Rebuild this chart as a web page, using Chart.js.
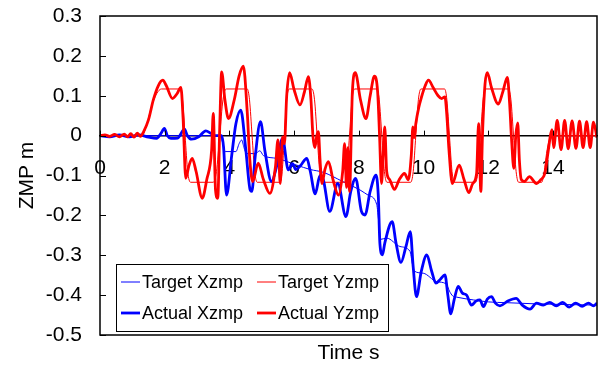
<!DOCTYPE html>
<html>
<head>
<meta charset="utf-8">
<script src="https://cdn.jsdelivr.net/npm/chart.js@4"></script>
<style>
  body { margin: 0; background: #fff; }
  #wrap { width: 598px; height: 366px; }
</style>
</head>
<body>
<div id="wrap"><canvas id="myChart"></canvas></div>
<script>
const grafico = document.querySelector("#myChart")

// target Y zmp (thin red)
const tempoAlvoY = [
    0, 1.3, 1.45, 1.6, 1.75, 1.9,
    2.45, 2.55, 2.63, 2.71, 2.8,
    3.5, 3.6, 3.7, 3.8, 3.9,
    4.55, 4.62, 4.7, 4.78, 4.86,
    5.55, 5.63, 5.7, 5.77, 5.85,
    6.55, 6.63, 6.71, 6.79, 6.87,
    7.55, 7.63, 7.71, 7.79, 7.87,
    8.55, 8.63, 8.71, 8.79, 8.87,
    9.6, 9.68, 9.76, 9.84, 9.92,
    10.65, 10.72, 10.8, 10.88, 10.95,
    11.6, 11.68, 11.76, 11.84, 11.92,
    12.62, 12.7, 12.78, 12.86, 12.94,
    13.65, 13.73, 13.8, 13.88, 13.96,
    15.36]
const alvoY = [
    0, 0, 0.03, 0.075, 0.105, 0.117,
    0.117, 0.09, 0, -0.09, -0.117,
    -0.117, -0.09, 0, 0.09, 0.117,
    0.117, 0.09, 0, -0.09, -0.117,
    -0.117, -0.09, 0, 0.09, 0.117,
    0.117, 0.09, 0, -0.09, -0.117,
    -0.117, -0.09, 0, 0.09, 0.117,
    0.117, 0.09, 0, -0.09, -0.117,
    -0.117, -0.09, 0, 0.09, 0.117,
    0.117, 0.09, 0, -0.09, -0.117,
    -0.117, -0.09, 0, 0.09, 0.117,
    0.117, 0.09, 0, -0.09, -0.117,
    -0.117, -0.09, -0.045, -0.012, 0,
    0]

// actual Y zmp (thick red)
const tempoRealY = [
    0, 0.15, 0.3, 0.45, 0.6, 0.75, 0.85, 0.95, 1.05, 1.15, 1.25, 1.35,
    1.5, 1.65, 1.8, 1.94, 2.05, 2.24, 2.38, 2.5, 2.57, 2.65, 2.75, 2.85,
    2.97, 3.16, 3.3, 3.45, 3.5, 3.57, 3.64, 3.7, 3.76, 3.86, 3.97, 4.15,
    4.3, 4.43, 4.55, 4.63, 4.72, 4.89, 5.05, 5.25, 5.42, 5.5, 5.57, 5.64,
    5.7, 5.77, 5.86, 6.0, 6.18, 6.32, 6.44, 6.52, 6.58, 6.64, 6.7, 6.75,
    6.8, 6.86, 6.95, 7.06, 7.2, 7.37, 7.5, 7.56, 7.62, 7.66, 7.71, 7.8,
    7.89, 8.05, 8.22, 8.35, 8.48, 8.58, 8.64, 8.7, 8.75, 8.8, 8.86, 8.95,
    9.1, 9.25, 9.41, 9.53, 9.62, 9.67, 9.71, 9.76, 9.85, 9.93, 10.05, 10.15,
    10.3, 10.45, 10.56, 10.66, 10.72, 10.78, 10.89, 11.1, 11.25, 11.4, 11.52, 11.64,
    11.7, 11.77, 11.82, 11.9, 11.97, 12.1, 12.31, 12.45, 12.59, 12.66, 12.72, 12.79,
    12.85, 12.91, 12.96, 13.02, 13.12, 13.27, 13.49, 13.63, 13.75, 13.85, 13.92, 13.97,
    14.02, 14.13, 14.25, 14.36, 14.47, 14.59, 14.71, 14.82, 14.93, 15.04, 15.15, 15.25,
    15.36]
const realY = [
    0, 0.002, -0.002, 0.003, -0.003, 0.004, -0.003, 0.005, -0.004, 0.006, -0.002, 0.01,
    0.04, 0.09, 0.125, 0.139, 0.125, 0.093, 0.105, 0.121, 0.04, -0.107, -0.075, -0.057,
    -0.09, -0.157, -0.11, -0.036, 0.056, -0.136, -0.157, 0.02, 0.16, 0.09, 0.043, 0.09,
    0.15, 0.174, 0.06, -0.06, -0.115, -0.069, -0.11, -0.145, -0.08, -0.011, -0.12, -0.003,
    -0.02, 0.1, 0.158, 0.115, 0.077, 0.11, 0.148, 0.09, 0, -0.03, 0, 0.01,
    -0.06, -0.12, -0.085, -0.065, -0.11, -0.149, -0.09, -0.02, -0.13, -0.03, -0.14, 0.11,
    0.158, 0.09, 0.043, 0.1, 0.149, 0.11, 0, -0.12, -0.05, 0.022, -0.09, -0.11,
    -0.135, -0.11, -0.095, -0.111, -0.05, 0.022, -0.005, 0.03, 0.07, 0.095, 0.125, 0.139,
    0.12, 0.1, 0.093, 0.097, 0.05, -0.03, -0.12, -0.074, -0.11, -0.143, -0.12, -0.094,
    0.03, -0.14, 0, 0.13, 0.158, 0.12, 0.079, 0.11, 0.146, 0.08, -0.01, -0.082,
    0, 0.032, -0.06, -0.11, -0.115, -0.103, -0.12, -0.11, -0.094, -0.04, 0, 0.015,
    -0.03, 0.038, -0.035, 0.038, -0.033, 0.037, -0.032, 0.036, -0.03, 0.035, -0.03, 0.034,
    -0.005]

// target X zmp (thin blue)
const tempoAlvoX = [
    0, 3.7, 3.8, 3.87, 4.2, 4.3, 4.38, 4.45, 4.53, 4.8,
    4.94, 5.05, 5.46, 6.08, 6.5, 6.9, 7.5, 8.03, 8.3, 8.55,
    8.62, 8.68, 8.86, 9.27, 9.58, 9.65, 9.72, 9.99, 10.4, 10.7,
    10.8, 10.9, 11.02, 11.54, 12.0, 12.57, 13.5, 15.36]
const alvoX = [
    0, 0, -0.02, -0.04, -0.04, -0.02, -0.011, -0.03, -0.045, -0.045,
    -0.038, -0.05, -0.057, -0.074, -0.085, -0.092, -0.115, -0.136, -0.15, -0.172,
    -0.22, -0.26, -0.257, -0.278, -0.29, -0.32, -0.34, -0.345, -0.366, -0.372,
    -0.39, -0.402, -0.405, -0.412, -0.417, -0.419, -0.422, -0.425]

// actual X zmp (thick blue)
const tempoRealX = [
    0, 0.3, 0.6, 0.9, 1.2, 1.5, 1.75, 1.88, 1.99, 2.08,
    2.19, 2.4, 2.61, 2.7, 2.83, 3.05, 3.27, 3.42, 3.55, 3.76,
    3.82, 3.91, 4.07, 4.2, 4.35, 4.5, 4.64, 4.69, 4.8, 4.96,
    5.1, 5.3, 5.45, 5.64, 5.82, 5.95, 6.05, 6.2, 6.39, 6.5,
    6.65, 6.8, 6.9, 7.1, 7.35, 7.6, 7.75, 7.9, 8.08, 8.19,
    8.35, 8.53, 8.6, 8.65, 8.73, 8.8, 9.03, 9.15, 9.3, 9.45,
    9.59, 9.68, 9.78, 9.93, 10.1, 10.25, 10.38, 10.52, 10.66, 10.75,
    10.84, 10.95, 11.07, 11.2, 11.33, 11.48, 11.62, 11.74, 11.85, 11.97,
    12.1, 12.22, 12.36, 12.6, 12.86, 13.05, 13.29, 13.49, 13.7, 13.9,
    14.1, 14.3, 14.5, 14.7, 14.9, 15.1, 15.25, 15.36]
const realX = [
    0, -0.003, 0.002, -0.003, 0.002, -0.004, -0.007, 0.005, 0.018, 0,
    -0.007, -0.006, 0.016, 0, -0.009, -0.003, 0.012, 0.006, 0, 0,
    -0.03, -0.149, -0.05, 0.03, 0.064, -0.03, -0.136, -0.14, -0.05, 0.035,
    -0.04, -0.115, -0.08, -0.007, -0.086, -0.07, -0.085, -0.075, -0.057, -0.09,
    -0.146, -0.1, -0.11, -0.19, -0.12, -0.203, -0.14, -0.107, -0.19, -0.199,
    -0.14, -0.099, -0.15, -0.27, -0.299, -0.27, -0.216, -0.27, -0.318, -0.28,
    -0.241, -0.33, -0.404, -0.34, -0.299, -0.34, -0.37, -0.36, -0.349, -0.4,
    -0.447, -0.41, -0.378, -0.395, -0.4, -0.425, -0.415, -0.412, -0.429, -0.41,
    -0.404, -0.42, -0.427, -0.415, -0.408, -0.425, -0.435, -0.42, -0.425, -0.418,
    -0.427, -0.418, -0.43, -0.42, -0.428, -0.42, -0.427, -0.42]

const rotulos = ["Target Xzmp", "Target Yzmp", "Actual Xzmp", "Actual Yzmp"]

const pares = (ts, vs) => ts.map((t, i) => ({ x: t, y: vs[i] }))

Chart.defaults.font.family = "'Liberation Sans', Arial, sans-serif"
Chart.defaults.color = '#000'

// frame, inner tick marks and the boxed legend
const moldura = {
    id: 'moldura',
    afterDraw(chart) {
        const { ctx, chartArea: a, scales } = chart
        const sx = scales.x, sy = scales.y
        ctx.save()
        ctx.strokeStyle = '#000'
        ctx.lineWidth = 1.5
        ctx.strokeRect(a.left, a.top, a.right - a.left, a.bottom - a.top)
        ctx.lineWidth = 1
        ctx.beginPath()
        sy.ticks.forEach(t => {
            const py = Math.round(sy.getPixelForValue(t.value)) + 0.5
            ctx.moveTo(a.left, py); ctx.lineTo(a.left + 6, py)
        })
        const y0 = sy.getPixelForValue(0)
        sx.ticks.forEach(t => {
            const px = Math.round(sx.getPixelForValue(t.value)) + 0.5
            ctx.moveTo(px, y0); ctx.lineTo(px, y0 - 5)
        })
        ctx.stroke()

        // legend box
        const bx = a.left + 16, bw = 272, bh = 67, by = a.bottom - 4 - bh
        ctx.fillStyle = '#fff'
        ctx.fillRect(bx, by, bw, bh)
        ctx.strokeStyle = '#000'
        ctx.lineWidth = 1
        ctx.strokeRect(bx + 0.5, by + 0.5, bw, bh)
        ctx.font = "18px 'Liberation Sans', Arial, sans-serif"
        ctx.textBaseline = 'middle'
        ctx.textAlign = 'left'
        chart.data.datasets.forEach((ds, i) => {
            const col = i % 2, lin = Math.floor(i / 2)
            const lx = bx + 5 + col * 136
            const ly = by + 18 + lin * 31
            ctx.strokeStyle = ds.borderColor
            ctx.lineWidth = ds.borderWidth
            ctx.beginPath()
            ctx.moveTo(lx, ly); ctx.lineTo(lx + 19, ly)
            ctx.stroke()
            ctx.fillStyle = '#000'
            ctx.fillText(ds.label, lx + 21, ly + 1)
        })
        ctx.restore()
    }
}

new Chart(grafico, {
    type: 'line',
    data: {
        datasets: [
            { label: rotulos[0], data: pares(tempoAlvoX, alvoX), borderColor: '#0000ff', borderWidth: 1, order: 4 },
            { label: rotulos[1], data: pares(tempoAlvoY, alvoY), borderColor: '#ff0000', borderWidth: 1, order: 3 },
            { label: rotulos[2], data: pares(tempoRealX, realX), borderColor: '#0000ff', borderWidth: 2.8, order: 2 },
            { label: rotulos[3], data: pares(tempoRealY, realY), borderColor: '#ff0000', borderWidth: 2.8, order: 1 }
        ]
    },
    options: {
        responsive: true,
        maintainAspectRatio: false,
        animation: false,
        layout: { padding: { top: 16, right: 1, left: 0, bottom: 0 } },
        elements: {
            point: { radius: 0 },
            line: { cubicInterpolationMode: 'monotone', fill: false }
        },
        plugins: { legend: { display: false }, tooltip: { enabled: false } },
        scales: {
            x: {
                type: 'linear',
                position: { y: 0 },
                min: 0,
                max: 15.36,
                grid: { display: false, drawTicks: false },
                border: { display: true, color: '#000', width: 1.5 },
                ticks: { stepSize: 2, includeBounds: false, maxRotation: 0, padding: 20, font: { size: 21 } },
                afterFit: s => { s.paddingTop = 0; s.paddingBottom = 0 }
            },
            xb: {
                type: 'linear',
                position: 'bottom',
                min: 0,
                max: 15.36,
                grid: { display: false, drawTicks: false },
                border: { display: false },
                ticks: { display: false },
                title: { display: true, text: 'Time s', font: { size: 21 }, padding: { top: 0, bottom: 0 } },
                afterFit: s => { s.height = 31 }
            },
            y: {
                min: -0.5,
                max: 0.3,
                grid: { display: false, drawTicks: false },
                border: { display: false },
                ticks: {
                    stepSize: 0.1,
                    padding: 18,
                    font: { size: 21 },
                    callback: v => String(Math.round(v * 10) / 10)
                },
                title: { display: true, text: 'ZMP m', font: { size: 21 }, padding: { top: 15, bottom: 0 } },
                afterFit: s => { s.width = 100; s.paddingTop = 0; s.paddingBottom = 0 }
            }
        }
    },
    plugins: [moldura]
});
</script>
</body>
</html>
